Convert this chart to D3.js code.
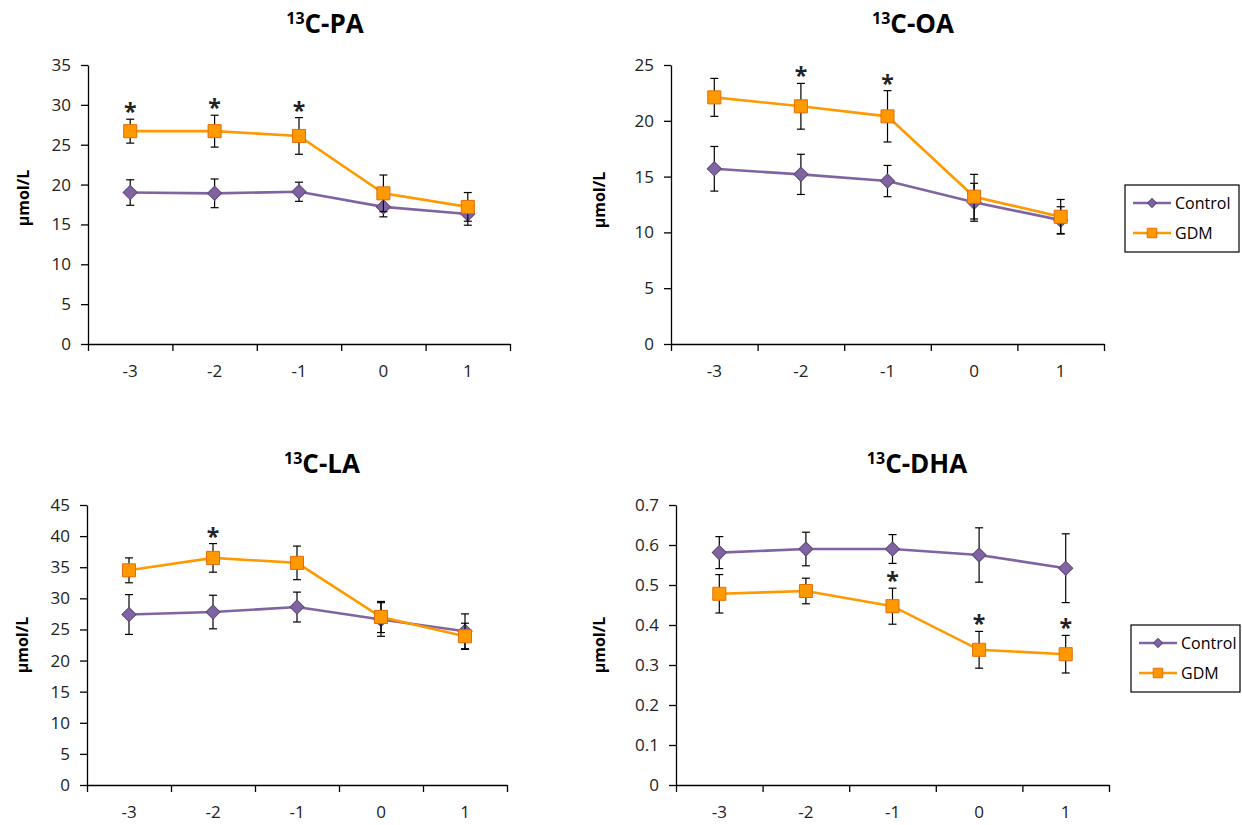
<!DOCTYPE html>
<html>
<head>
<meta charset="utf-8">
<script src="https://cdn.jsdelivr.net/npm/d3@7"></script>
<style>
  body { margin: 0; background: #fff; }
  svg { font-family: "Open Sans", "Noto Sans", sans-serif; }
</style>
</head>
<body>
<div id="chart"></div>
<script>
// x categories (time points)
var categories = ["-3", "-2", "-1", "0", "1"];
var seriesNames = ["Control", "GDM"];

// 13C-PA
var paControl = [19.0, 18.9, 19.1, 17.2, 16.3];
var paControlErr = [1.6, 1.8, 1.2, 1.25, 1.4];
var paGdm = [26.7, 26.7, 26.1, 18.9, 17.2];
var paGdmErr = [1.5, 2.0, 2.3, 2.3, 1.8];
var paStars = ["-3", "-2", "-1"];
var paTicks = [0, 5, 10, 15, 20, 25, 30, 35];

// 13C-OA
var oaControl = [15.7, 15.2, 14.6, 12.7, 11.1];
var oaControlErr = [2.0, 1.8, 1.4, 1.7, 1.2];
var oaGdm = [22.1, 21.3, 20.4, 13.2, 11.4];
var oaGdmErr = [1.7, 2.05, 2.3, 2.0, 1.55];
var oaStars = ["-2", "-1"];
var oaTicks = [0, 5, 10, 15, 20, 25];

// 13C-LA
var laControl = [27.4, 27.8, 28.6, 26.6, 24.7];
var laControlErr = [3.2, 2.7, 2.4, 2.7, 2.8];
var laGdm = [34.5, 36.5, 35.7, 27.0, 23.9];
var laGdmErr = [2.0, 2.3, 2.7, 2.5, 2.1];
var laStars = ["-2"];
var laTicks = [0, 5, 10, 15, 20, 25, 30, 35, 40, 45];

// 13C-DHA
var dhaControl = [0.581, 0.590, 0.590, 0.575, 0.542];
var dhaControlErr = [0.040, 0.042, 0.036, 0.068, 0.086];
var dhaGdm = [0.478, 0.485, 0.447, 0.338, 0.327];
var dhaGdmErr = [0.048, 0.032, 0.045, 0.046, 0.047];
var dhaStars = ["-1", "0", "1"];
var dhaTicks = [0, 0.1, 0.2, 0.3, 0.4, 0.5, 0.6, 0.7];

var purple = "#8064a2", purpleDark = "#5f497a";
var orange = "#ff9900", orangeDark = "#e46c0a";

var svg = d3.select("#chart").append("svg")
    .attr("width", 1242)
    .attr("height", 825);

// panel layout (pixel boxes)
var panels = [
    { name: "C-PA", control: paControl, controlErr: paControlErr, gdm: paGdm, gdmErr: paGdmErr,
      stars: paStars, ticks: paTicks,
      x0: 88, x1: 510, yTop: 65, yBot: 344, titleX: 325, titleY: 33, labelX: 29, labelY: 198, legend: null },
    { name: "C-OA", control: oaControl, controlErr: oaControlErr, gdm: oaGdm, gdmErr: oaGdmErr,
      stars: oaStars, ticks: oaTicks,
      x0: 671, x1: 1104, yTop: 65, yBot: 344, titleX: 913, titleY: 33, labelX: 605, labelY: 200,
      legend: { x: 1125, y: 185, w: 114, h: 67 } },
    { name: "C-LA", control: laControl, controlErr: laControlErr, gdm: laGdm, gdmErr: laGdmErr,
      stars: laStars, ticks: laTicks,
      x0: 87, x1: 507, yTop: 505, yBot: 785, titleX: 322, titleY: 473, labelX: 28, labelY: 645, legend: null },
    { name: "C-DHA", control: dhaControl, controlErr: dhaControlErr, gdm: dhaGdm, gdmErr: dhaGdmErr,
      stars: dhaStars, ticks: dhaTicks,
      x0: 676, x1: 1109, yTop: 505, yBot: 785, titleX: 917, titleY: 473, labelX: 605, labelY: 645,
      legend: { x: 1131, y: 625, w: 109, h: 67 } }
];

var diamond = d3.symbol().type(d3.symbolSquare).size(100);
var square = d3.symbol().type(d3.symbolSquare).size(170);

panels.forEach(function(p) {
    var g = svg.append("g");

    var x = d3.scaleBand().domain(categories).range([p.x0, p.x1]);
    var xb = d3.scaleLinear().domain([0, categories.length]).range([p.x0, p.x1]);
    var y = d3.scaleLinear().domain([0, d3.max(p.ticks)]).range([p.yBot, p.yTop]);

    // title with superscript
    var t = g.append("text")
        .attr("x", p.titleX).attr("y", p.titleY)
        .attr("text-anchor", "middle")
        .attr("font-weight", "bold")
        .attr("font-size", 26)
        .attr("fill", "#000");
    t.append("tspan").attr("font-size", 16).attr("dy", -9).text("13");
    t.append("tspan").attr("dy", 9).text(p.name);

    // y label
    g.append("text")
        .attr("transform", "translate(" + p.labelX + "," + p.labelY + ") rotate(-90)")
        .attr("text-anchor", "middle")
        .attr("font-weight", "bold")
        .attr("font-size", 16)
        .text("µmol/L");

    // y axis
    var yAxis = g.append("g")
        .attr("transform", "translate(" + p.x0 + ",0)")
        .call(d3.axisLeft(y).tickValues(p.ticks).tickFormat(d3.format("~g"))
            .tickSize(7).tickSizeOuter(0).tickPadding(10));

    // x axis: boundary tick marks + centred labels
    var xTicks = g.append("g")
        .attr("transform", "translate(0," + p.yBot + ")")
        .call(d3.axisBottom(xb).ticks(categories.length).tickFormat("").tickSize(7).tickSizeOuter(0));
    var xLabels = g.append("g")
        .attr("transform", "translate(0," + p.yBot + ")")
        .call(d3.axisBottom(x).tickSize(0).tickPadding(21));
    xLabels.select(".domain").remove();

    [yAxis, xTicks].forEach(function(a) {
        a.selectAll("path, line").attr("stroke", "#000").attr("stroke-width", 1.3);
    });
    [yAxis, xLabels].forEach(function(a) {
        a.selectAll("text")
            .style("font-size", "17px")
            .style("font-family", "'Open Sans', 'Noto Sans', sans-serif")
            .attr("fill", "#222");
    });

    var cx = function(i) { return x(categories[i]) + x.bandwidth() / 2; };

    var series = [
        { vals: p.control, errs: p.controlErr, line: purple, fill: purple, stroke: purpleDark, sym: diamond, rot: 45 },
        { vals: p.gdm, errs: p.gdmErr, line: orange, fill: orange, stroke: orangeDark, sym: square, rot: 0 }
    ];

    series.forEach(function(s) {
        var line = d3.line()
            .x(function(d, i) { return cx(i); })
            .y(function(d) { return y(d); });
        g.append("path")
            .datum(s.vals)
            .attr("d", line)
            .attr("fill", "none")
            .attr("stroke", s.line)
            .attr("stroke-width", 2.6);

        // error bars
        var eb = g.append("g").selectAll("g")
            .data(s.vals)
            .enter().append("g");
        eb.append("line")
            .attr("x1", function(d, i) { return cx(i); })
            .attr("x2", function(d, i) { return cx(i); })
            .attr("y1", function(d, i) { return y(d - s.errs[i]); })
            .attr("y2", function(d, i) { return y(d + s.errs[i]); })
            .attr("stroke", "#000").attr("stroke-width", 1.2);
        [-1, 1].forEach(function(sign) {
            eb.append("line")
                .attr("x1", function(d, i) { return cx(i) - 4; })
                .attr("x2", function(d, i) { return cx(i) + 4; })
                .attr("y1", function(d, i) { return y(d + sign * s.errs[i]); })
                .attr("y2", function(d, i) { return y(d + sign * s.errs[i]); })
                .attr("stroke", "#000").attr("stroke-width", 1.2);
        });

        // markers
        g.append("g").selectAll("path")
            .data(s.vals)
            .enter().append("path")
            .attr("d", s.sym)
            .attr("transform", function(d, i) {
                return "translate(" + cx(i) + "," + y(d) + ") rotate(" + s.rot + ")";
            })
            .attr("fill", s.fill)
            .attr("stroke", s.stroke)
            .attr("stroke-width", 1);
    });

    // significance stars over the GDM error bar
    g.append("g").selectAll("text")
        .data(p.stars)
        .enter().append("text")
        .attr("x", function(c) { return x(c) + x.bandwidth() / 2; })
        .attr("y", function(c) {
            var i = categories.indexOf(c);
            return y(p.gdm[i] + p.gdmErr[i]) + 1;
        })
        .attr("text-anchor", "middle")
        .attr("font-size", 23)
        .attr("font-weight", "bold")
        .attr("fill", "#222")
        .text("*");

    // legend
    if (p.legend) {
        var L = p.legend;
        var lg = g.append("g");
        lg.append("rect")
            .attr("x", L.x).attr("y", L.y).attr("width", L.w).attr("height", L.h)
            .attr("fill", "#fff").attr("stroke", "#000").attr("stroke-width", 1.2);
        var items = [
            { name: seriesNames[0], color: purple, fill: purple, stroke: purpleDark, rot: 45, size: 40 },
            { name: seriesNames[1], color: orange, fill: orange, stroke: orangeDark, rot: 0, size: 90 }
        ];
        items.forEach(function(it, k) {
            var yy = L.y + 18 + k * 30;
            lg.append("line")
                .attr("x1", L.x + 8).attr("x2", L.x + 46)
                .attr("y1", yy).attr("y2", yy)
                .attr("stroke", it.color).attr("stroke-width", 2.6);
            lg.append("path")
                .attr("d", d3.symbol().type(d3.symbolSquare).size(it.size))
                .attr("transform", "translate(" + (L.x + 27) + "," + yy + ") rotate(" + it.rot + ")")
                .attr("fill", it.fill).attr("stroke", it.stroke).attr("stroke-width", 1);
            lg.append("text")
                .attr("x", L.x + 50).attr("y", yy + 6)
                .attr("font-size", 16)
                .attr("fill", "#000")
                .text(it.name);
        });
    }
});
</script>
</body>
</html>
